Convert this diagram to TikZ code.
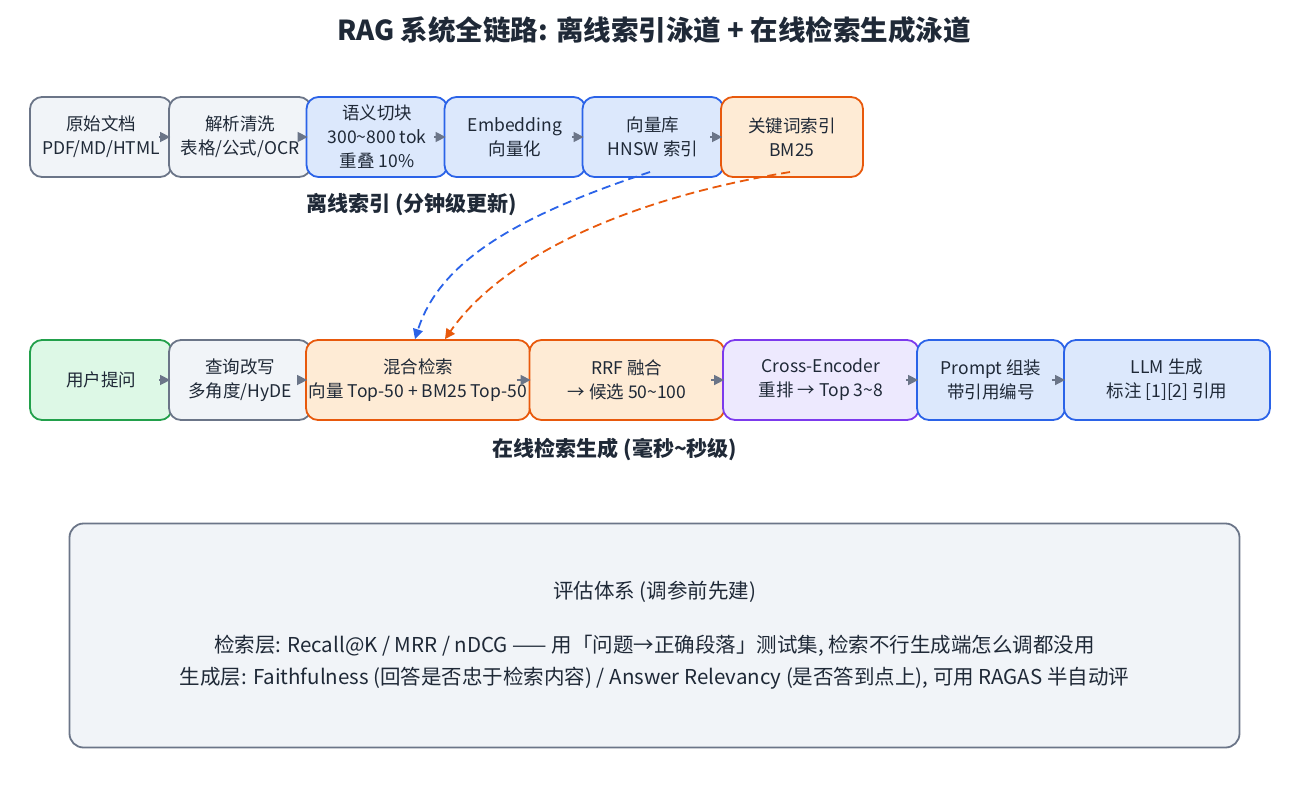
\documentclass[tikz,border=0pt]{standalone}
\usepackage{fontspec}
\setmainfont{Noto Sans CJK SC}
\usetikzlibrary{arrows.meta}
\definecolor{grayF}{HTML}{F1F4F8}\definecolor{grayD}{HTML}{6B7588}
\definecolor{blueF}{HTML}{DCE8FC}\definecolor{blueD}{HTML}{2B63E8}
\definecolor{orgF}{HTML}{FEEBD5}\definecolor{orgD}{HTML}{E8590C}
\definecolor{grnF}{HTML}{DDF8E6}\definecolor{grnD}{HTML}{22A04B}
\definecolor{purF}{HTML}{EDE9FE}\definecolor{purD}{HTML}{7C3AED}
\definecolor{ink}{HTML}{1F2937}
\tikzset{
  box/.style={draw, line width=1.8pt, rounded corners=12pt, minimum height=80pt, align=center,
    font=\fontsize{17.5}{24}\selectfont, text=ink, inner sep=0pt},
  gbox/.style={box, fill=grayF, draw=grayD},
  bbox/.style={box, fill=blueF, draw=blueD},
  obox/.style={box, fill=orgF, draw=orgD},
  nbox/.style={box, fill=grnF, draw=grnD},
  pbox/.style={box, fill=purF, draw=purD},
  flow/.style={draw=grayD, line width=1.5pt, -{Triangle[length=10pt,width=10pt]}},
  feed/.style={line width=1.8pt, dash pattern=on 9pt off 5pt, -{Triangle[length=10pt,width=10pt]}},
  lane/.style={font=\bfseries\fontsize{21}{23}\selectfont, text=ink}
}
\begin{document}
\begin{tikzpicture}[x=1pt,y=-1pt]
	\useasboundingbox (0,0) rectangle (1308,796);
	\node[font=\bfseries\fontsize{27.5}{30}\selectfont, text=ink] (title) at (654,30) {RAG 系统全链路: 离线索引泳道 + 在线检索生成泳道};
	
	%offline lane
	\node[gbox, minimum width=142pt] (doc) at (101,137) {原始文档\\PDF/MD/HTML};
	\node[gbox, minimum width=142pt] (parse) at (240,137) {解析清洗\\表格/公式/OCR};
	\node[bbox, minimum width=141pt] (chunk) at (377,137) {语义切块\\300\textasciitilde 800 tok\\重叠 10\%};
	\node[bbox, minimum width=141pt] (emb) at (515,137) {Embedding\\向量化};
	\node[bbox, minimum width=141pt] (vdb) at (653,137) {向量库\\HNSW 索引};
	\node[obox, minimum width=142pt] (bm) at (792,137) {关键词索引\\BM25};
	\node[lane] (offl) at (412,205) {离线索引 (分钟级更新)};
	
	%online lane
	\node[nbox, minimum width=142pt] (user) at (101,380) {用户提问};
	\node[gbox, minimum width=142pt] (rewrite) at (240,380) {查询改写\\多角度/HyDE};
	\node[obox, minimum width=224pt] (hyb) at (418,380) {混合检索\\向量 Top-50 + BM25 Top-50};
	\node[obox, minimum width=195pt] (rrf) at (627,380) {RRF 融合\\→ 候选 50\textasciitilde 100};
	\node[pbox, minimum width=196pt] (rerank) at (821,380) {Cross-Encoder\\重排 → Top 3\textasciitilde 8};
	\node[bbox, minimum width=148pt] (prompt) at (991,380) {Prompt 组装\\带引用编号};
	\node[bbox, minimum width=206pt] (llm) at (1167,380) {LLM 生成\\标注 [1][2] 引用};
	\node[lane] (onl) at (615,449) {在线检索生成 (毫秒\textasciitilde 秒级)};
	
	\foreach \a/\b in {doc/parse,parse/chunk,chunk/emb,emb/vdb,vdb/bm,user/rewrite,rewrite/hyb,hyb/rrf,rrf/rerank,rerank/prompt,prompt/llm}
		\draw[flow] ([xshift=-14pt]\a.east) -- ([xshift=2pt]\b.west);
	
	\coordinate (vdbout) at (650,172);
	\coordinate (bmout) at (790,172);
	\draw[feed, blueD] (vdbout) .. controls (520,215) and (440,260) .. ([xshift=-3pt]hyb.north);
	\draw[feed, orgD] (bmout) .. controls (620,200) and (500,260) .. ([xshift=27pt]hyb.north);
	
	%evaluation
	\node[gbox, minimum width=1170pt, minimum height=224pt, rounded corners=14pt, font=\fontsize{20.5}{32}\selectfont] (eval) at (654.5,635.5)
		{评估体系 (调参前先建)\\[22pt]检索层: Recall@K / MRR / nDCG —— 用「问题→正确段落」测试集, 检索不行生成端怎么调都没用\\生成层: Faithfulness (回答是否忠于检索内容) / Answer Relevancy (是否答到点上), 可用 RAGAS 半自动评};
\end{tikzpicture}
\end{document}
